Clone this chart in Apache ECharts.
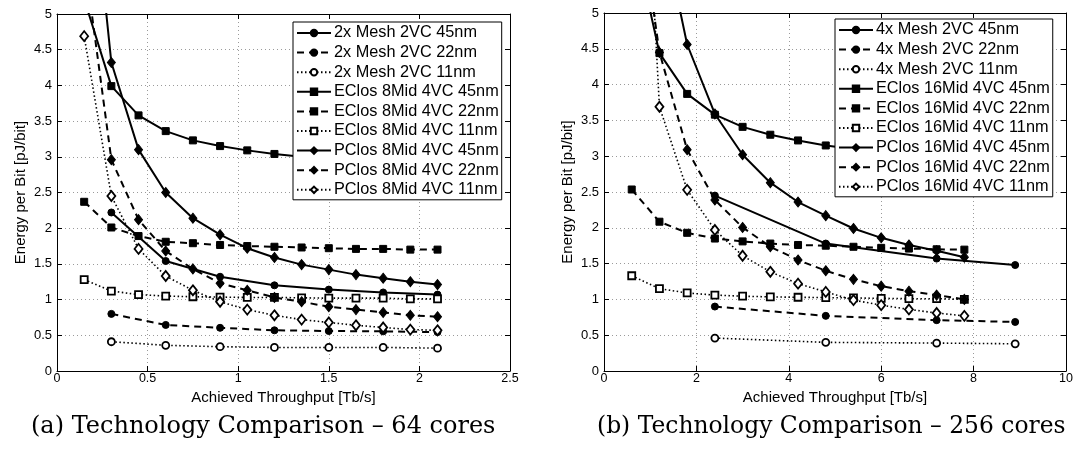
<!DOCTYPE html>
<html><head><meta charset="utf-8">
<script src="https://cdn.jsdelivr.net/npm/echarts@6/dist/echarts.min.js"></script>
<style>html,body{margin:0;padding:0;background:#fff}#c{width:1077px;height:453px}</style>
</head><body><div id="c"></div>
<script>
// ---------- DATA ----------
// Left: 64 cores
const leftMeshX = [0.3, 0.6, 0.9, 1.2, 1.5, 1.8, 2.1];
const leftClosX = [0.15, 0.3, 0.45, 0.6, 0.75, 0.9, 1.05, 1.2, 1.35, 1.5, 1.65, 1.8, 1.95, 2.1];
const leftMesh45 = [2.22, 1.54, 1.32, 1.20, 1.14, 1.10, 1.07];
const leftMesh22 = [0.80, 0.645, 0.605, 0.57, 0.56, 0.555, 0.545];
const leftMesh11 = [0.41, 0.36, 0.34, 0.33, 0.33, 0.33, 0.32];
const leftEClos45 = [5.21, 3.99, 3.58, 3.36, 3.23, 3.15, 3.09, 3.04, 3.00, 2.97, 2.95, 2.93, 2.91, 2.90];
const leftEClos22 = [2.37, 2.01, 1.89, 1.81, 1.79, 1.765, 1.75, 1.74, 1.73, 1.72, 1.71, 1.71, 1.70, 1.70];
const leftEClos11 = [1.28, 1.12, 1.07, 1.05, 1.04, 1.035, 1.03, 1.03, 1.025, 1.02, 1.02, 1.02, 1.01, 1.01];
const leftPClos45 = [8.0, 4.32, 3.10, 2.50, 2.14, 1.91, 1.72, 1.59, 1.49, 1.42, 1.35, 1.30, 1.25, 1.21];
const leftPClos22 = [5.8, 2.96, 2.12, 1.68, 1.43, 1.23, 1.13, 1.03, 0.97, 0.90, 0.86, 0.82, 0.78, 0.76];
const leftPClos11 = [4.69, 2.45, 1.71, 1.33, 1.13, 0.97, 0.86, 0.78, 0.72, 0.68, 0.64, 0.61, 0.58, 0.57];
const leftNames = ['2x Mesh 2VC 45nm','2x Mesh 2VC 22nm','2x Mesh 2VC 11nm',
  'EClos 8Mid 4VC 45nm','EClos 8Mid 4VC 22nm','EClos 8Mid 4VC 11nm',
  'PClos 8Mid 4VC 45nm','PClos 8Mid 4VC 22nm','PClos 8Mid 4VC 11nm'];
const leftXTicks = {min: 0, max: 2.5, interval: 0.5};

// Right: 256 cores
const rightMeshX = [2.4, 4.8, 7.2, 8.9];
const rightClosX = [0.6, 1.2, 1.8, 2.4, 3.0, 3.6, 4.2, 4.8, 5.4, 6.0, 6.6, 7.2, 7.8];
const rightMesh45 = [2.45, 1.78, 1.57, 1.48];
const rightMesh22 = [0.90, 0.77, 0.71, 0.685];
const rightMesh11 = [0.46, 0.40, 0.39, 0.38];
const rightEClos45 = [6.2, 4.44, 3.87, 3.58, 3.41, 3.30, 3.22, 3.15, 3.10, 3.06, 3.03, 3.00, 2.98];
const rightEClos22 = [2.535, 2.085, 1.93, 1.85, 1.81, 1.78, 1.76, 1.75, 1.735, 1.72, 1.71, 1.70, 1.695];
const rightEClos11 = [1.33, 1.15, 1.09, 1.06, 1.045, 1.035, 1.03, 1.025, 1.02, 1.015, 1.01, 1.01, 1.00];
const rightPClos45 = [14, 6.4, 4.56, 3.59, 3.02, 2.63, 2.36, 2.17, 1.99, 1.86, 1.76, 1.68, 1.59];
const rightPClos22 = [7.2, 4.45, 3.09, 2.39, 2.005, 1.735, 1.55, 1.40, 1.28, 1.185, 1.115, 1.06, 1.00];
const rightPClos11 = [11, 3.69, 2.53, 1.97, 1.61, 1.385, 1.22, 1.105, 0.99, 0.92, 0.86, 0.81, 0.77];
const rightNames = ['4x Mesh 2VC 45nm','4x Mesh 2VC 22nm','4x Mesh 2VC 11nm',
  'EClos 16Mid 4VC 45nm','EClos 16Mid 4VC 22nm','EClos 16Mid 4VC 11nm',
  'PClos 16Mid 4VC 45nm','PClos 16Mid 4VC 22nm','PClos 16Mid 4VC 11nm'];
const rightXTicks = {min: 0, max: 10, interval: 2};

const yTicks = {min: 0, max: 5, interval: 0.5};
const xName = 'Achieved Throughput [Tb/s]';
const yName = 'Energy per Bit [pJ/bit]';
const captions = ['(a) Technology Comparison \u2013 64 cores', '(b) Technology Comparison \u2013 256 cores'];

// ---------- CHART ----------
const SANS = '"Liberation Sans", Arial, sans-serif';
const dashTypes = {solid: 'solid', dashed: [7, 5], dotted: [1.5, 2.5]};
const symSize = {circle: 7, rect: 7, diamond: [8, 10]};

function mk(name, xs, ys, style, symbol, filled, axisIdx) {
  return {
    name: name, type: 'line', xAxisIndex: axisIdx, yAxisIndex: axisIdx,
    data: xs.map((x, i) => [x, ys[i]]),
    symbol: symbol, symbolSize: symSize[symbol], showSymbol: true,
    lineStyle: {color: '#000', width: style === 'dotted' ? 1.6 : 2, type: dashTypes[style]},
    itemStyle: {color: filled ? '#000' : '#fff', borderColor: '#000', borderWidth: filled ? 1 : 1.8},
    emphasis: {disabled: true}, animation: false, clip: true, z: 2
  };
}

function group(names, meshX, closX, m45, m22, m11, e45, e22, e11, p45, p22, p11, idx) {
  return [
    mk(names[0], meshX, m45, 'solid', 'circle', true, idx),
    mk(names[1], meshX, m22, 'dashed', 'circle', true, idx),
    mk(names[2], meshX, m11, 'dotted', 'circle', false, idx),
    mk(names[3], closX, e45, 'solid', 'rect', true, idx),
    mk(names[4], closX, e22, 'dashed', 'rect', true, idx),
    mk(names[5], closX, e11, 'dotted', 'rect', false, idx),
    mk(names[6], closX, p45, 'solid', 'diamond', true, idx),
    mk(names[7], closX, p22, 'dashed', 'diamond', true, idx),
    mk(names[8], closX, p11, 'dotted', 'diamond', false, idx)
  ];
}

const grids = [
  {left: 57, right: 567, top: 14, bottom: 82},
  {left: 604, right: 11, top: 13, bottom: 82}
];
const xt = [leftXTicks, rightXTicks];

const xAxes = [], yAxes = [];
for (let g = 0; g < 2; g++) {
  xAxes.push({
    type: 'value', gridIndex: g, min: xt[g].min, max: xt[g].max, interval: xt[g].interval,
    position: 'bottom', name: xName, nameLocation: 'middle', nameGap: 9,
    nameTextStyle: {fontFamily: SANS, fontSize: 15, color: '#000'},
    axisLine: {show: true, onZero: false, lineStyle: {color: '#000', width: 1}},
    axisTick: {show: true, inside: true, length: 5, lineStyle: {color: '#000'}},
    axisLabel: {fontFamily: SANS, fontSize: 12.5, color: '#000', margin: 1},
    splitLine: {show: true, lineStyle: {color: '#9a9a9a', type: [1, 3], width: 1}}
  });
  yAxes.push({
    type: 'value', gridIndex: g, min: yTicks.min, max: yTicks.max, interval: yTicks.interval,
    position: 'left', name: yName, nameLocation: 'middle', nameGap: 29,
    nameTextStyle: {fontFamily: SANS, fontSize: 15, color: '#000'},
    axisLine: {show: true, onZero: false, lineStyle: {color: '#000', width: 1}},
    axisTick: {show: true, inside: true, length: 5, lineStyle: {color: '#000'}},
    axisLabel: {fontFamily: SANS, fontSize: 13, color: '#000', margin: 5},
    splitLine: {show: true, lineStyle: {color: '#9a9a9a', type: [1, 3], width: 1}}
  });
}
for (let g = 0; g < 2; g++) {
  xAxes.push({
    type: 'value', gridIndex: g, min: xt[g].min, max: xt[g].max, interval: xt[g].interval,
    position: 'top', axisLine: {show: true, onZero: false, lineStyle: {color: '#000'}},
    axisTick: {show: true, inside: true, length: 5, lineStyle: {color: '#000'}},
    axisLabel: {show: false}, splitLine: {show: false}
  });
  yAxes.push({
    type: 'value', gridIndex: g, min: yTicks.min, max: yTicks.max, interval: yTicks.interval,
    position: 'right', axisLine: {show: true, onZero: false, lineStyle: {color: '#000'}},
    axisTick: {show: true, inside: true, length: 5, lineStyle: {color: '#000'}},
    axisLabel: {show: false}, splitLine: {show: false}
  });
}

const series = [].concat(
  group(leftNames, leftMeshX, leftClosX, leftMesh45, leftMesh22, leftMesh11,
        leftEClos45, leftEClos22, leftEClos11, leftPClos45, leftPClos22, leftPClos11, 0),
  group(rightNames, rightMeshX, rightClosX, rightMesh45, rightMesh22, rightMesh11,
        rightEClos45, rightEClos22, rightEClos11, rightPClos45, rightPClos22, rightPClos11, 1)
);

function legend(names, left, top) {
  return {
    data: names, orient: 'vertical', left: left, top: top,
    itemWidth: 34, itemHeight: 8, itemGap: 3.6, selectedMode: false,
    backgroundColor: '#fff', borderColor: '#000', borderWidth: 1,
    padding: [3, 3, 2, 3],
    textStyle: {fontFamily: SANS, fontSize: 16.3, color: '#000', padding: [0, 0, 0, -2]},
    z: 10
  };
}

const chart = echarts.init(document.getElementById('c'), null, {renderer: 'canvas'});
chart.setOption({
  backgroundColor: '#fff',
  animation: false,
  grid: grids,
  xAxis: xAxes,
  yAxis: yAxes,
  legend: [legend(leftNames, 293, 22), legend(rightNames, 835, 19)],
  series: series,
  graphic: [
    {type: 'text', left: 31, top: 415, style: {text: captions[0], font: '24px "DejaVu Serif", serif', fill: '#000'}},
    {type: 'text', left: 597, top: 415, style: {text: captions[1], font: '23.4px "DejaVu Serif", serif', fill: '#000'}}
  ]
});
</script></body></html>
